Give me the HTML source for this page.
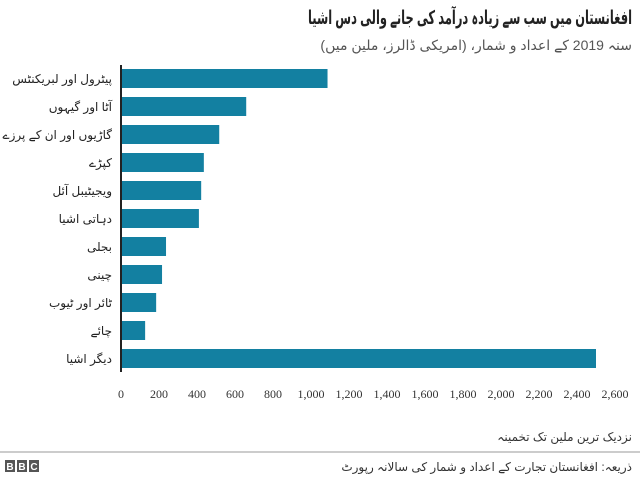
<!DOCTYPE html>
<html><head><meta charset="utf-8"><style>
body{margin:0;width:640px;height:480px;background:#fff;overflow:hidden;font-family:"Liberation Sans","Noto Sans CJK SC",sans-serif}
svg text{font-family:"Liberation Sans","DejaVu Sans",sans-serif}
</style></head><body>
<svg width="640" height="480">
<text x="632" y="24" text-anchor="start" direction="rtl" font-size="19" font-weight="bold" fill="#222" textLength="324" lengthAdjust="spacingAndGlyphs">افغانستان میں سب سے زیادہ درآمد کی جانے والی دس اشیا</text>
<text x="632" y="50" text-anchor="start" direction="rtl" font-size="14" fill="#555">سنہ 2019 کے اعداد و شمار، (امریکی ڈالرز، ملین میں)</text>
<g id="bars"></g>
<g id="xticks"></g>
<line x1="121" y1="65" x2="121" y2="372" stroke="#222" stroke-width="2"/>
<text x="632" y="441" text-anchor="start" direction="rtl" font-size="12" fill="#333">نزدیک ترین ملین تک تخمینہ</text>
<line x1="0" y1="452" x2="640" y2="452" stroke="#999" stroke-width="1"/>
<g>
<rect x="5" y="460" width="10" height="12" fill="#555"/><rect x="17" y="460" width="10" height="12" fill="#555"/><rect x="29" y="460" width="10" height="12" fill="#555"/>
<text x="10" y="470" text-anchor="middle" font-size="10" font-weight="bold" fill="#fff">B</text>
<text x="22" y="470" text-anchor="middle" font-size="10" font-weight="bold" fill="#fff">B</text>
<text x="34" y="470" text-anchor="middle" font-size="10" font-weight="bold" fill="#fff">C</text>
</g>
<text x="632" y="471" text-anchor="start" direction="rtl" font-size="12" fill="#333">ذریعہ: افغانستان تجارت کے اعداد و شمار کی سالانہ رپورٹ</text>
</svg>
<script>
const categories=["پیٹرول اور لبریکنٹس","آٹا اور گیہوں","گاڑیوں اور ان کے پرزے","کپڑے","ویجیٹیبل آئل","دہاتی اشیا","بجلی","چینی","ٹائر اور ٹیوب","چائے","دیگر اشیا"];
const values=[1087,659,517,436,422,410,237,216,185,127,2500];
const ticks=[0,200,400,600,800,1000,1200,1400,1600,1800,2000,2200,2400,2600];
const tickLabels=["0","200","400","600","800","1,000","1,200","1,400","1,600","1,800","2,000","2,200","2,400","2,600"];
const NS="http://www.w3.org/2000/svg";
const x0=121,x1=615,xmax=2600;
function xs(v){return x0+(v/xmax)*(x1-x0);}
function yb(i){return 69+i*28;}
const gb=document.getElementById('bars');
categories.forEach((c,i)=>{
 const r=document.createElementNS(NS,'rect');
 r.setAttribute('x',x0);r.setAttribute('y',yb(i));
 r.setAttribute('width',xs(values[i])-x0);r.setAttribute('height',19);
 r.setAttribute('fill','#1380a1');
 
 
 gb.appendChild(r);
 const t=document.createElementNS(NS,'text');
 t.setAttribute('x',112);t.setAttribute('y',yb(i)+14);
 t.setAttribute('text-anchor','start');t.setAttribute('direction','rtl');
 t.setAttribute('font-size','12');t.setAttribute('fill','#222');
 t.textContent=c;
 
 
 gb.appendChild(t);
});
const gx=document.getElementById('xticks');
ticks.forEach((v,i)=>{
 const t=document.createElementNS(NS,'text');
 t.setAttribute('x',xs(v));t.setAttribute('y',398);
 t.setAttribute('text-anchor','middle');t.setAttribute('font-size','12');t.setAttribute('fill','#333');
 t.setAttribute('style','font-family:"Liberation Serif",serif');
 t.textContent=tickLabels[i];
 
 
 gx.appendChild(t);
});
</script>
</body></html>
